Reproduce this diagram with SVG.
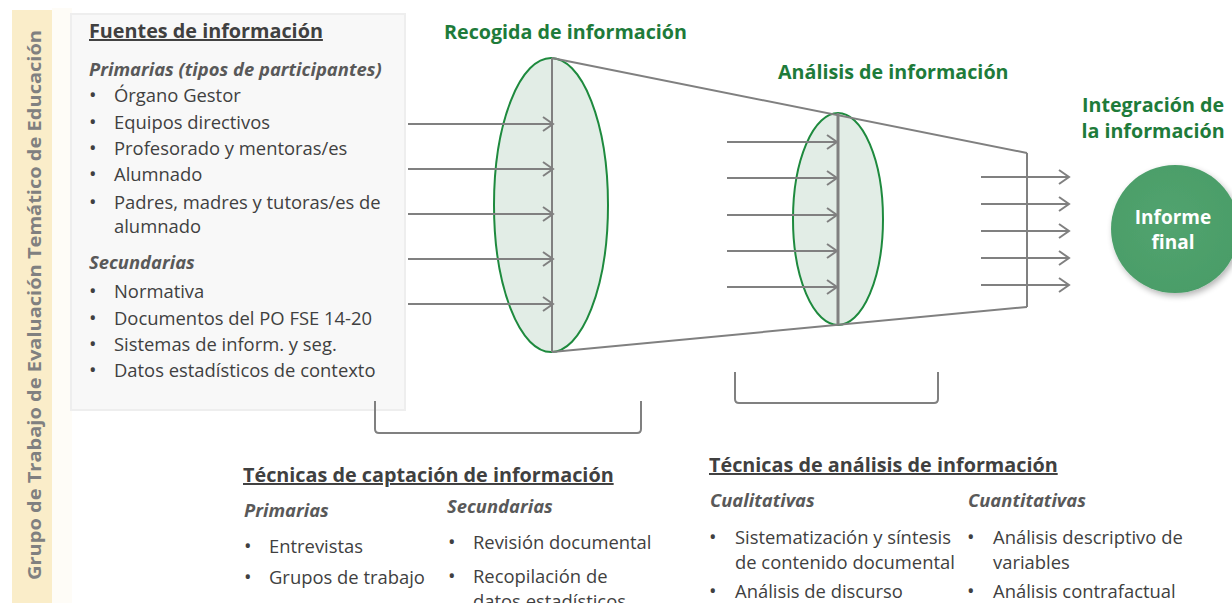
<svg xmlns="http://www.w3.org/2000/svg" width="1232" height="603" viewBox="0 0 1232 603">
<style>
text{font-family:"Open Sans","Liberation Sans",sans-serif;}
.body{font-size:18.4px;fill:#404040;}
.b{font-size:20px;}
.sub{font-size:18.4px;fill:#595959;font-weight:bold;font-style:italic;}
.head{font-size:19.8px;fill:#404040;font-weight:bold;text-decoration:underline;}
.green{font-size:19.7px;fill:#1E7B3A;font-weight:bold;}
.ln{stroke:#808080;stroke-width:2;fill:none;}
.arr{stroke:#808080;stroke-width:2;fill:none;marker-end:url(#chev);}
.ell{fill:#E2EDE6;stroke:#1E8A3E;stroke-width:2;}
</style>
<defs>
<marker id="chev" markerUnits="userSpaceOnUse" markerWidth="14" markerHeight="16" refX="11" refY="8" orient="auto">
<path d="M1,1 L11,8 L1,15" fill="none" stroke="#808080" stroke-width="2"/>
</marker>
<radialGradient id="cg" cx="45%" cy="45%" r="60%">
<stop offset="0" stop-color="#52A36F"/>
<stop offset="1" stop-color="#4A9D68"/>
</radialGradient>
<filter id="sh" x="-30%" y="-30%" width="160%" height="160%">
<feGaussianBlur in="SourceAlpha" stdDeviation="3"/>
<feOffset dx="2" dy="3"/>
<feComponentTransfer><feFuncA type="linear" slope="0.3"/></feComponentTransfer>
<feMerge><feMergeNode/><feMergeNode in="SourceGraphic"/></feMerge>
</filter>
</defs>
<rect width="1232" height="603" fill="#FFFFFF"/>

<g id="side-label">
<rect x="52" y="8" width="20" height="595" fill="#FEFCF7"/>
<rect x="12" y="10" width="40" height="593" fill="#FAEDC9"/>
<text transform="translate(41,580) rotate(-90)" font-size="18" font-weight="bold" fill="#808080" textLength="550" lengthAdjust="spacingAndGlyphs">Grupo de Trabajo de Evaluación Temático de Educación</text>
</g>

<g id="fuentes">
<rect x="71" y="14" width="334" height="396" fill="#F8F8F8" stroke="#EEEEEE" stroke-width="2"/>
<text x="89" y="38" class="head">Fuentes de información</text>
<text x="89" y="76" class="sub">Primarias (tipos de participantes)</text>
<g class="body">
<text x="89" y="102" class="b">•</text><text x="114" y="102">Órgano Gestor</text>
<text x="89" y="129" class="b">•</text><text x="114" y="129">Equipos directivos</text>
<text x="89" y="155" class="b">•</text><text x="114" y="155">Profesorado y mentoras/es</text>
<text x="89" y="181" class="b">•</text><text x="114" y="181">Alumnado</text>
<text x="89" y="209" class="b">•</text><text x="114" y="209">Padres, madres y tutoras/es de</text>
<text x="114" y="233">alumnado</text>
</g>
<text x="89" y="269" class="sub">Secundarias</text>
<g class="body">
<text x="89" y="298" class="b">•</text><text x="114" y="298">Normativa</text>
<text x="89" y="325" class="b">•</text><text x="114" y="325">Documentos del PO FSE 14-20</text>
<text x="89" y="351" class="b">•</text><text x="114" y="351">Sistemas de inform. y seg.</text>
<text x="89" y="377" class="b">•</text><text x="114" y="377">Datos estadísticos de contexto</text>
</g>
</g>

<g id="recogida">
<text x="444" y="39" class="green">Recogida de información</text>
<ellipse cx="551" cy="205" rx="57" ry="147" class="ell"/>
<line x1="552" y1="58" x2="552" y2="352" class="ln"/>
</g>

<g id="analisis">
<text x="778" y="79" class="green">Análisis de información</text>
<ellipse cx="838" cy="219" rx="45" ry="106" class="ell"/>
<line x1="838" y1="113" x2="838" y2="325" stroke="#808080" stroke-width="3"/>
</g>

<g id="integracion">
<text x="1153" y="112" class="green" text-anchor="middle">Integración de</text>
<text x="1153" y="138" class="green" text-anchor="middle">la información</text>
</g>

<g id="informe-final">
<circle cx="1175" cy="229" r="64" fill="url(#cg)" filter="url(#sh)"/>
<text x="1173" y="224" font-size="19" font-weight="bold" fill="#FFFFFF" text-anchor="middle">Informe</text>
<text x="1173" y="249" font-size="19" font-weight="bold" fill="#FFFFFF" text-anchor="middle">final</text>
</g>

<g id="connectors">
<line x1="552" y1="58" x2="1027" y2="153" class="ln"/>
<line x1="552" y1="352" x2="1027" y2="307" class="ln"/>
<line x1="1027" y1="153" x2="1027" y2="307" class="ln"/>
<line x1="408" y1="124" x2="553" y2="124" class="arr"/>
<line x1="408" y1="169" x2="553" y2="169" class="arr"/>
<line x1="408" y1="214" x2="553" y2="214" class="arr"/>
<line x1="408" y1="259" x2="553" y2="259" class="arr"/>
<line x1="408" y1="304" x2="553" y2="304" class="arr"/>
<line x1="727" y1="142" x2="837" y2="142" class="arr"/>
<line x1="727" y1="178" x2="837" y2="178" class="arr"/>
<line x1="727" y1="215" x2="837" y2="215" class="arr"/>
<line x1="727" y1="251" x2="837" y2="251" class="arr"/>
<line x1="727" y1="287" x2="837" y2="287" class="arr"/>
<line x1="981" y1="177" x2="1069" y2="177" class="arr"/>
<line x1="981" y1="204" x2="1069" y2="204" class="arr"/>
<line x1="981" y1="231" x2="1069" y2="231" class="arr"/>
<line x1="981" y1="258" x2="1069" y2="258" class="arr"/>
<line x1="981" y1="285" x2="1069" y2="285" class="arr"/>
<path d="M375,401 L375,429 Q375,433 379,433 L637,433 Q641,433 641,429 L641,401" class="ln"/>
<path d="M735,372 L735,399 Q735,403 739,403 L934,403 Q938,403 938,399 L938,372" class="ln"/>
</g>

<g id="tecnicas-captacion">
<text x="243" y="482" class="head">Técnicas de captación de información</text>
<text x="244" y="517" class="sub">Primarias</text>
<text x="447" y="513" class="sub">Secundarias</text>
<g class="body">
<text x="244" y="553" class="b">•</text><text x="269" y="553">Entrevistas</text>
<text x="244" y="584" class="b">•</text><text x="269" y="584">Grupos de trabajo</text>
<text x="448" y="549" class="b">•</text><text x="473" y="549">Revisión documental</text>
<text x="448" y="583" class="b">•</text><text x="473" y="583">Recopilación de</text>
<text x="473" y="608">datos estadísticos</text>
</g>
</g>

<g id="tecnicas-analisis">
<text x="709" y="472" class="head">Técnicas de análisis de información</text>
<text x="710" y="507" class="sub">Cualitativas</text>
<text x="968" y="507" class="sub">Cuantitativas</text>
<g class="body">
<text x="709" y="544" class="b">•</text><text x="735" y="544">Sistematización y síntesis</text>
<text x="735" y="569">de contenido documental</text>
<text x="709" y="598" class="b">•</text><text x="735" y="598">Análisis de discurso</text>
<text x="967" y="544" class="b">•</text><text x="993" y="544">Análisis descriptivo de</text>
<text x="993" y="569">variables</text>
<text x="967" y="598" class="b">•</text><text x="993" y="598">Análisis contrafactual</text>
</g>
</g>
</svg>
